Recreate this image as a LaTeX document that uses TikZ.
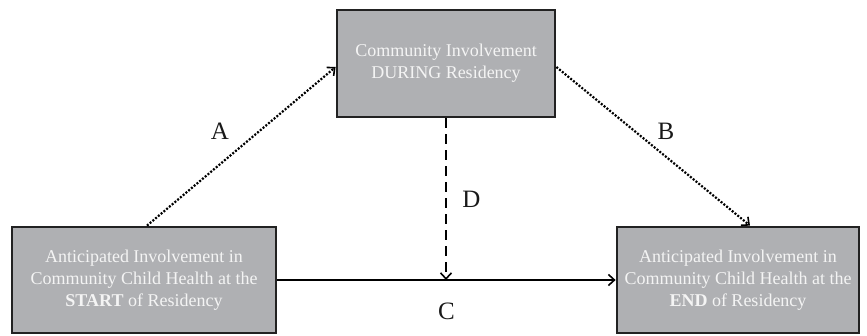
\documentclass[tikz,border=0pt]{standalone}
\usepackage{fontspec}
\setmainfont{Liberation Serif}
\usetikzlibrary{shapes,arrows.meta,positioning,calc}

\definecolor{boxgray}{HTML}{AFB0B3}
\definecolor{boxline}{HTML}{222222}
\definecolor{boxtext}{HTML}{F4F4F4}

\tikzset{
  varbox/.style={draw=boxline, line width=2.8pt, fill=boxgray, rectangle, align=center,
    text=boxtext, font=\fontsize{18}{22}\selectfont, inner sep=0pt},
  pathlabel/.style={font=\fontsize{25}{28}\selectfont, text=black!90},
  dotline/.style={->, line width=2.2pt, dash pattern=on 2pt off 1.6pt},
  dashline/.style={->, line width=2pt, dash pattern=on 10pt off 6pt},
  solidline/.style={->, line width=1.8pt}
}

\begin{document}
\begin{tikzpicture}[x=1pt, y=-1pt, >={Straight Barb[length=6pt, width=11pt, line width=1.6pt]}]
\useasboundingbox (0,0) rectangle (867,335);

% Community Involvement DURING Residency
\node[varbox, minimum width=218pt, minimum height=107pt] (during) at (446,63.5) {
Community Involvement \\
DURING Residency
};

% START of Residency
\node[varbox, minimum width=264pt, minimum height=106pt] (start) at (144,280) {
Anticipated Involvement in \\
Community Child Health at the \\
\textbf{START} of Residency
};

% END of Residency
\node[varbox, minimum width=242pt, minimum height=106pt] (end) at (738,280) {
Anticipated Involvement in \\
Community Child Health at the \\
\textbf{END} of Residency
};

% Pfade
\coordinate (dmeet) at (during.south |- start.east);
\draw[dotline] ([xshift=3pt]start.north) -- node[pathlabel, midway, above left=2pt and 8pt] {A} ([yshift=-3.5pt]during.west);
\draw[dotline] ([yshift=-3.5pt]during.east) -- node[pathlabel, midway, above right=2pt and 0pt] {B} ([xshift=12pt]end.north);
\draw[solidline] (start.east) -- node[pathlabel, midway, below=19pt] {C} (end.west);
\draw[dashline] (during.south) -- node[pathlabel, midway, right=12pt] {D} (dmeet);
\end{tikzpicture}
\end{document}
